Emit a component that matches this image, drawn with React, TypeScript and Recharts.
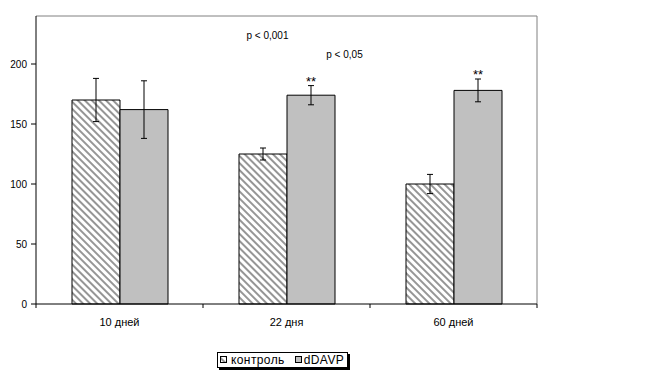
import React from 'react';
import { BarChart, Bar, XAxis, YAxis, ErrorBar, ReferenceDot, Legend, LabelList, CartesianGrid } from 'recharts';

const categories = ['10 дней', '22 дня', '60 дней'];
const controlValues = [170, 125, 100];
const controlErrors = [18, 5, 8];
const ddavpValues = [162, 174, 178];
const ddavpErrors = [24, 8, 9.5];
const starLabels = ['', '**', '**'];
const yTicks = [0, 50, 100, 150, 200];
const seriesNames = ['контроль', 'dDAVP'];
const pLabels = ['p < 0,001', 'p < 0,05'];
const pLabelY = [224, 208];

const FONT = '"Liberation Sans", Arial, sans-serif';
const X_TICK_SIZE = 6;
const X_TICK_MARGIN = 8;

const data = categories.map((name, i) => ({
  name,
  control: controlValues[i],
  controlErr: controlErrors[i],
  ddavp: ddavpValues[i],
  ddavpErr: ddavpErrors[i],
}));

const HatchPattern = ({ id }: { id: string }) => (
  <pattern id={id} patternUnits="userSpaceOnUse" width={5} height={5} patternTransform="rotate(45)">
    <rect x={0} y={0} width={5} height={5} fill="#fff" />
    <rect x={0} y={0} width={5} height={2} fill="#969696" />
  </pattern>
);

const renderLegend = () => (
  <div
    style={{
      display: 'inline-flex',
      alignItems: 'center',
      border: '1px solid #000',
      boxShadow: '2px 2px 0 #000',
      background: '#fff',
      padding: '0 3px 0 2px',
      height: 16,
      fontFamily: FONT,
      fontSize: 12,
      letterSpacing: 0.4,
      color: '#000',
      whiteSpace: 'nowrap',
      boxSizing: 'border-box',
    }}
  >
    <svg width={7} height={7} style={{ marginRight: 4, display: 'block' }}>
      <defs>
        <HatchPattern id="hatchLegend" />
      </defs>
      <rect x={0.5} y={0.5} width={6} height={6} fill="url(#hatchLegend)" stroke="#000" />
    </svg>
    <span>{seriesNames[0]}</span>
    <svg width={7} height={7} style={{ marginLeft: 10, marginRight: 2, display: 'block' }}>
      <rect x={0.5} y={0.5} width={6} height={6} fill="#c0c0c0" stroke="#000" />
    </svg>
    <span>{seriesNames[1]}</span>
  </div>
);

const CategoryTick = (props: any) => {
  const { x, y, payload } = props;
  const half = payload && payload.offset ? payload.offset : 0;
  const axisY = y - X_TICK_SIZE - X_TICK_MARGIN;
  return (
    <g>
      <line x1={x - half} x2={x - half} y1={axisY} y2={axisY + 4} stroke="#000" />
      {payload.index === categories.length - 1 ? (
        <line x1={x + half} x2={x + half} y1={axisY} y2={axisY + 4} stroke="#000" />
      ) : null}
      <text x={x} y={y} dy={8} textAnchor="middle" fill="#000" fontSize={11} fontFamily={FONT}>
        {payload.value}
      </text>
    </g>
  );
};

const renderStar = (props: any) => {
  const { x, y, width, height, value, index } = props;
  const s = starLabels[index];
  if (!s) return null;
  const errPx = (ddavpErrors[index] * Number(height)) / Number(value);
  return (
    <text
      x={Number(x) + Number(width) / 2}
      y={Number(y) - errPx}
      textAnchor="middle"
      fill="#000"
      stroke="none"
      style={{ fill: '#000' }}
      fontSize={13}
      fontFamily={FONT}
    >
      {s}
    </text>
  );
};

export default function App() {
  return (
    <div style={{ position: 'absolute', left: 0, top: 0, width: 653, height: 377, background: '#fff' }}>
      <BarChart
        width={653}
        height={377}
        data={data}
        margin={{ top: 16, right: 116, bottom: 43, left: 0 }}
        barCategoryGap={36}
        barGap={0}
        style={{ fontFamily: FONT }}
      >
        <defs>
          <HatchPattern id="hatchBar" />
        </defs>
        <CartesianGrid
          stroke="#808080"
          fill="none"
          horizontalCoordinatesGenerator={(p: any) => [p.offset.top]}
          verticalCoordinatesGenerator={(p: any) => [p.offset.left + p.offset.width]}
        />
        <XAxis
          dataKey="name"
          tickLine={false}
          axisLine={{ stroke: '#000' }}
          tickSize={X_TICK_SIZE}
          tickMargin={X_TICK_MARGIN}
          height={30}
          interval={0}
          tick={<CategoryTick />}
        />
        <YAxis
          domain={[0, 240]}
          ticks={yTicks}
          width={36}
          tickSize={5}
          tickMargin={4}
          axisLine={{ stroke: '#000' }}
          tickLine={{ stroke: '#000' }}
          tick={{ fill: '#000', fontSize: 10, fontFamily: FONT }}
          interval={0}
        />
        <Bar dataKey="control" name={seriesNames[0]} fill="url(#hatchBar)" stroke="#000" strokeWidth={1} isAnimationActive={false}>
          <ErrorBar dataKey="controlErr" stroke="#000" strokeWidth={1} width={3} />
        </Bar>
        <Bar dataKey="ddavp" name={seriesNames[1]} fill="#c0c0c0" stroke="#000" strokeWidth={1} isAnimationActive={false}>
          <ErrorBar dataKey="ddavpErr" stroke="#000" strokeWidth={1} width={3} />
          <LabelList dataKey="ddavp" content={renderStar} />
        </Bar>
        <ReferenceDot
          x={categories[1]}
          y={pLabelY[0]}
          r={0}
          fill="none"
          stroke="none"
          label={{ value: pLabels[0], position: 'center', dx: -19, fontSize: 10, fill: '#000', fontFamily: FONT }}
        />
        <ReferenceDot
          x={categories[1]}
          y={pLabelY[1]}
          r={0}
          fill="none"
          stroke="none"
          label={{ value: pLabels[1], position: 'center', dx: 58, fontSize: 10, fill: '#000', fontFamily: FONT }}
        />
        <Legend
          layout="horizontal"
          verticalAlign="middle"
          align="center"
          content={renderLegend}
          wrapperStyle={{ left: 217, top: 349, width: 'auto', height: 'auto' }}
        />
      </BarChart>
    </div>
  );
}
